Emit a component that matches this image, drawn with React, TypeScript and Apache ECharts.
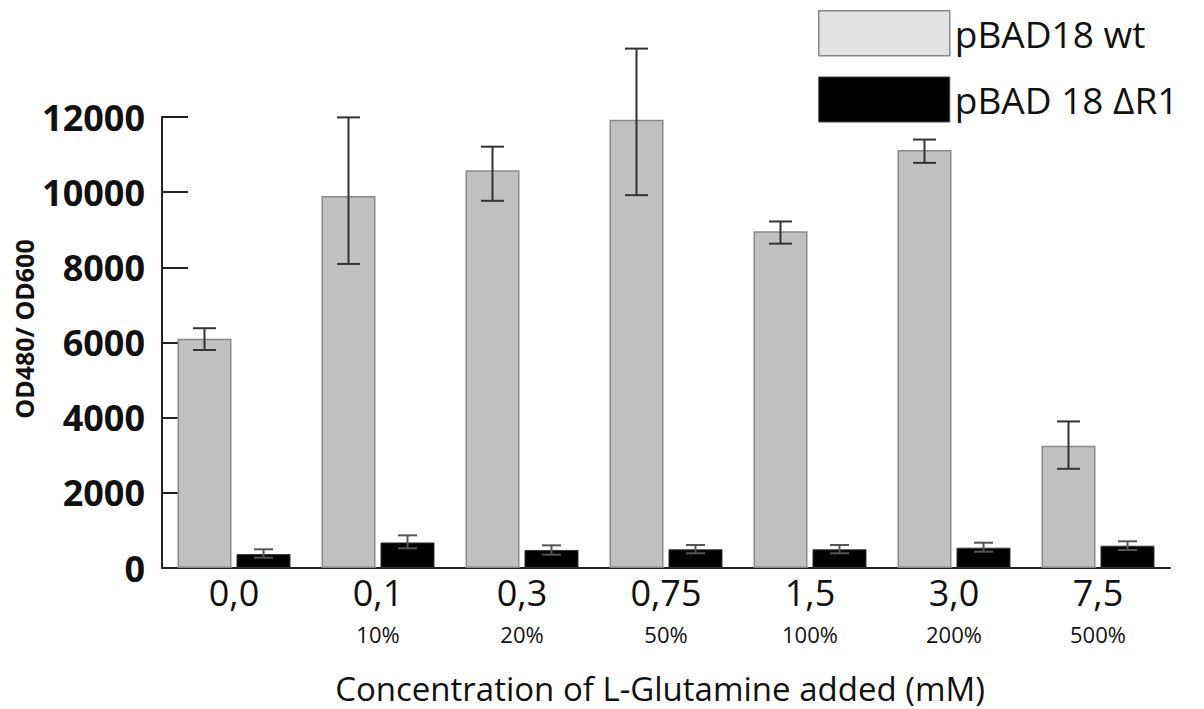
import React, { useEffect, useRef } from "react";
import * as echarts from "echarts";

const categories = ["0,0", "0,1", "0,3", "0,75", "1,5", "3,0", "7,5"];
const percentLabels = ["", "10%", "20%", "50%", "100%", "200%", "500%"];
const wtValues = [6100, 9900, 10580, 11930, 8960, 11120, 3250];
const wtErrLow = [5800, 8090, 9770, 9920, 8630, 10780, 2640];
const wtErrHigh = [6380, 11990, 11210, 13820, 9220, 11400, 3900];
const drValues = [370, 680, 480, 497, 497, 540, 593];
const drErrLow = [275, 523, 355, 390, 390, 434, 479];
const drErrHigh = [497, 869, 603, 612, 612, 673, 710];
const yTicks = [0, 2000, 4000, 6000, 8000, 10000, 12000];

const BAR_W = 54;
const BAR_GAP = 5;

function errSeries(name: string, low: number[], high: number[], side: number, capW: number, color: string) {
  return {
    name,
    type: "custom",
    clip: false,
    z: 5,
    data: low.map((l, i) => [i, l, high[i]]),
    encode: { x: 0, y: [1, 2] },
    renderItem: (params: any, api: any) => {
      const idx = api.value(0);
      const lo = api.coord([idx, api.value(1)]);
      const hi = api.coord([idx, api.value(2)]);
      const x = lo[0] + side * (BAR_W + BAR_GAP) / 2;
      const style = { stroke: color, lineWidth: 2 };
      return {
        type: "group",
        children: [
          { type: "line", shape: { x1: x, y1: lo[1], x2: x, y2: hi[1] }, style },
          { type: "line", shape: { x1: x - capW / 2, y1: lo[1], x2: x + capW / 2, y2: lo[1] }, style },
          { type: "line", shape: { x1: x - capW / 2, y1: hi[1], x2: x + capW / 2, y2: hi[1] }, style },
        ],
      };
    },
  };
}

export default function App() {
  const ref = useRef<HTMLDivElement>(null);
  useEffect(() => {
    if (!ref.current) return;
    const chart = echarts.init(ref.current, null, { renderer: "svg" });
    chart.setOption({
      animation: false,
      textStyle: { fontFamily: "Open Sans" },
      grid: { left: 162, right: 34, top: 117, bottom: 141 },
      legend: {
        orient: "vertical",
        left: 813,
        top: 5,
        itemWidth: 131,
        itemHeight: 45,
        itemGap: 20,
        icon: "rect",
        textStyle: { fontSize: 37, color: "#111", fontFamily: "Open Sans", padding: [0, 0, 0, 0] },
        data: [
          { name: "pBAD18 wt", itemStyle: { color: "#e1e2e4", borderColor: "#888", borderWidth: 1.5 } },
          { name: "pBAD 18 ΔR1", itemStyle: { color: "#000", borderColor: "#444", borderWidth: 1 } },
        ],
      },
      xAxis: [
        {
          type: "category",
          data: categories,
          axisLine: { lineStyle: { color: "#222", width: 2 } },
          axisTick: { inside: true, length: 11, lineStyle: { color: "#222", width: 2 } },
          axisLabel: {
            margin: 6,
            color: "#111",
            fontSize: 36,
            lineHeight: 36,
            fontFamily: "Open Sans",
          },
        },
        {
          type: "category",
          data: categories,
          position: "bottom",
          axisLine: { show: false },
          axisTick: { show: false },
          axisLabel: {
            margin: 55,
            color: "#111",
            fontSize: 22,
            lineHeight: 22,
            fontFamily: "Open Sans",
            formatter: (v: string, i: number) => percentLabels[i],
          },
        },
      ],
      yAxis: {
        type: "value",
        min: 0,
        max: 12000,
        interval: 2000,
        splitLine: { show: false },
        axisLine: { show: true, lineStyle: { color: "#222", width: 2 } },
        axisTick: { show: true, inside: true, length: 26, lineStyle: { color: "#222", width: 2 } },
        axisLabel: {
          margin: 17,
          fontSize: 36,
          fontWeight: "bold",
          color: "#111",
          fontFamily: "Open Sans",
          formatter: (v: number) => (yTicks.includes(v) ? String(v) : ""),
        },
      },
      series: [
        {
          name: "pBAD18 wt",
          type: "bar",
          barWidth: BAR_W,
          barGap: `${(BAR_GAP / BAR_W) * 100}%`,
          z: 3,
          itemStyle: { color: "#bfc0c2", borderColor: "#8a8a8a", borderWidth: 1.5 },
          data: wtValues,
        },
        {
          name: "pBAD 18 ΔR1",
          type: "bar",
          barWidth: BAR_W,
          z: 3,
          itemStyle: { color: "#000", borderColor: "#333", borderWidth: 1 },
          data: drValues,
        },
        errSeries("wt error", wtErrLow, wtErrHigh, -1, 23, "#333"),
        errSeries("ΔR1 error", drErrLow, drErrHigh, 1, 19, "#555"),
      ],
      graphic: [
        {
          type: "text",
          x: 24,
          y: 329,
          rotation: Math.PI / 2,
          style: {
            text: "OD480/ OD600",
            fontSize: 25,
            fontWeight: "bold",
            fontFamily: "Open Sans",
            fill: "#111",
            textAlign: "center",
            textVerticalAlign: "middle",
          },
        },
        {
          type: "text",
          x: 660,
          y: 688,
          style: {
            text: "Concentration of L-Glutamine added (mM)",
            fontSize: 33,
            fontFamily: "Open Sans",
            fill: "#111",
            textAlign: "center",
            textVerticalAlign: "middle",
          },
        },
      ],
    });
    return () => chart.dispose();
  }, []);
  return (
    <div
      ref={ref}
      style={{ position: "fixed", left: 0, top: 0, width: 1204, height: 709, background: "#fff" }}
    />
  );
}
